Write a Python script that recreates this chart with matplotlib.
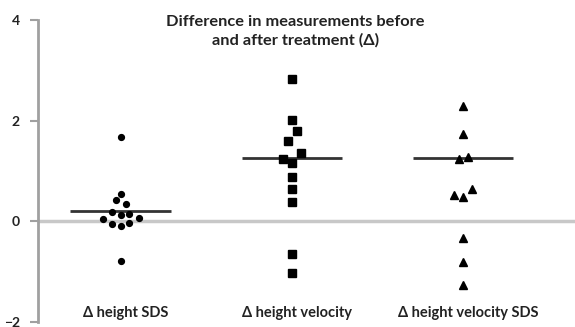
import matplotlib
matplotlib.use("Agg")
import matplotlib.pyplot as plt
import numpy as np

# change (after - before) per child, three measures
categories = ["\u0394 height SDS", "\u0394 height velocity", "\u0394 height velocity SDS"]

height_sds = [1.67, 0.55, 0.43, 0.34, 0.18, 0.13, 0.15, 0.05, 0.07, -0.05, -0.10, -0.04, -0.78]
height_sds_dx = [0, 0, -0.03, 0.03, -0.05, 0, 0.05, -0.105, 0.105, -0.05, 0, 0.05, 0]

height_vel = [2.82, 2.02, 1.79, 1.60, 1.35, 1.24, 1.16, 0.89, 0.64, 0.38, -0.65, -1.03]
height_vel_dx = [0, 0, 0.03, -0.025, 0.053, -0.054, 0, 0, 0, 0, 0, 0]

height_vel_sds = [2.29, 1.74, 1.27, 1.23, 0.65, 0.52, 0.48, -0.34, -0.81, -1.27]
height_vel_sds_dx = [0, 0, 0.03, -0.025, 0.055, -0.05, 0, 0, 0, 0]

group_lines = [0.20, 1.26, 1.26]

groups = [(height_sds, height_sds_dx, "o", 4.2),
          (height_vel, height_vel_dx, "s", 5.4),
          (height_vel_sds, height_vel_sds_dx, "^", 5.4)]

plt.rcParams["font.family"] = ["Lato", "DejaVu Sans"]

fig = plt.figure(figsize=(5.75, 3.27), dpi=100)
ax = fig.add_axes([38 / 575, 5 / 327, 537 / 575, 302 / 327])

xpos = np.arange(1, 4)

ax.axhline(0, color="#c8c8c8", lw=2.5, zorder=0)

for x, (vals, dx, marker, ms) in zip(xpos, groups):
    ax.plot(x + np.array(dx), vals, linestyle="none", marker=marker,
            markersize=ms, color="black", zorder=3)

ax.hlines(group_lines, xpos - 0.295, xpos + 0.295, color="#333333", lw=2, zorder=2)

for x, label in zip(xpos, categories):
    ax.text(x + 0.03, -1.83, label, ha="center", va="center",
            fontsize=10.5, fontweight="bold", color="#222222")

ax.text(2.02, 3.77, "Difference in measurements before\nand after treatment (\u0394)",
        ha="center", va="center", fontsize=11.8, fontweight="bold",
        color="#222222", linespacing=1.35)

ax.set_xlim(0.515, 3.655)
ax.set_ylim(-2, 4)
ax.set_yticks([-2, 0, 2, 4])
ax.set_xticks([])

for side in ["top", "right", "bottom"]:
    ax.spines[side].set_visible(False)
ax.spines["left"].set_color("#a0a0a0")
ax.spines["left"].set_linewidth(2)
ax.tick_params(axis="y", direction="out", length=6, width=1.5,
               color="#a0a0a0", pad=7, labelsize=10)
for t in ax.get_yticklabels():
    t.set_fontweight("bold")
    t.set_color("#222222")

fig.savefig("out.png", dpi=100)
